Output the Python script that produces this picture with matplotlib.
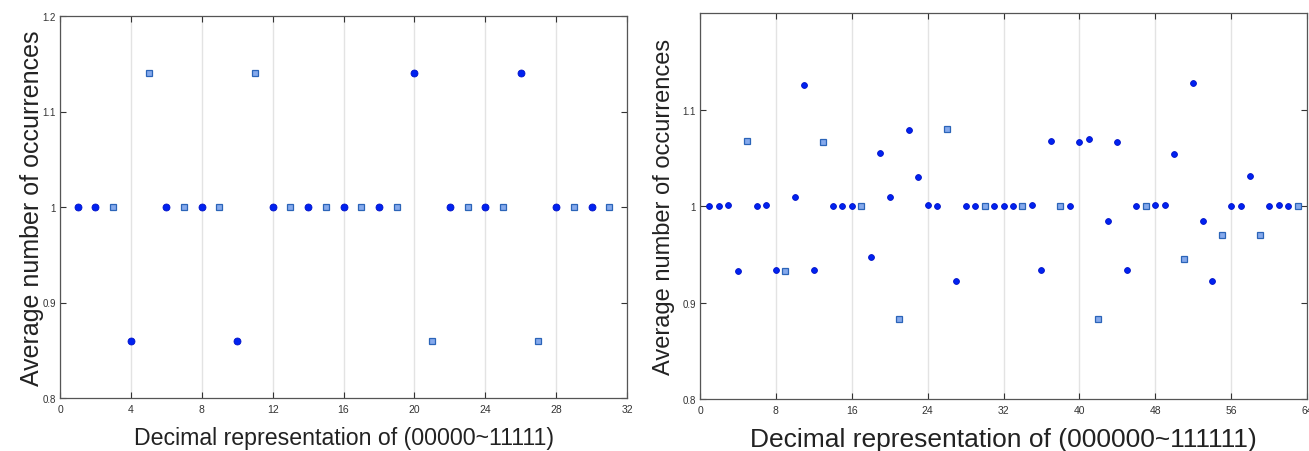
import matplotlib
matplotlib.use("Agg")
import matplotlib.pyplot as plt
import numpy as np

plt.rcParams['font.family'] = ['Liberation Sans', 'DejaVu Sans']

# ---- data: left panel (5-bit patterns) ----
left_x = list(range(1, 32))
left_y = [1.0, 1.0, 1.0, 0.86, 1.14, 1.0, 1.0, 1.0, 1.0, 0.86,
          1.14, 1.0, 1.0, 1.0, 1.0, 1.0, 1.0, 1.0, 1.0, 1.14,
          0.86, 1.0, 1.0, 1.0, 1.0, 1.14, 0.86, 1.0, 1.0, 1.0, 1.0]
left_sq = [3, 5, 7, 9, 11, 13, 15, 17, 19, 21, 23, 25, 27, 29, 31]

# ---- data: right panel (6-bit patterns) ----
right_x = list(range(1, 64))
right_y = [1.000, 1.000, 1.001, 0.933, 1.067, 1.000, 1.001, 0.934, 0.933, 1.009,
           1.125, 0.934, 1.066, 1.000, 1.000, 1.000, 1.000, 0.947, 1.055, 1.009,
           0.883, 1.079, 1.030, 1.001, 1.000, 1.080, 0.922, 1.000, 1.000, 1.000,
           1.000, 1.000, 1.000, 1.000, 1.001, 0.934, 1.067, 1.000, 1.000, 1.066,
           1.069, 0.883, 0.984, 1.066, 0.934, 1.000, 1.000, 1.001, 1.001, 1.054,
           0.945, 1.127, 0.984, 0.922, 0.970, 1.000, 1.000, 1.031, 0.970, 1.000,
           1.001, 1.000, 1.000]
right_sq = [5, 9, 13, 17, 21, 26, 30, 34, 38, 42, 47, 51, 55, 59, 63]

left_xticks = [0, 4, 8, 12, 16, 20, 24, 28, 32]
right_xticks = [0, 8, 16, 24, 32, 40, 48, 56, 64]
left_yticks = [0.8, 0.9, 1.0, 1.1, 1.2]
left_yticklabels = ['0.8', '0.9', '1', '1.1', '1.2']
right_yticks = [0.8, 0.9, 1.0, 1.1]
right_yticklabels = ['0.8', '0.9', '1', '1.1']

CIRC_FACE = '#0022F0'
CIRC_EDGE = '#0010C8'
SQ_FACE = '#85A9EC'
SQ_EDGE = '#2B64B8'

fig = plt.figure(figsize=(13.09, 4.52), dpi=100)

def style(ax, xlim, xticks, yticks, yticklabels, xlabel, xl_fs, yl_fs, ylpad):
    ax.set_xlim(*xlim)
    ax.set_ylim(0.8, 1.2)
    ax.set_xticks(xticks)
    ax.set_yticks(yticks)
    ax.set_yticklabels(yticklabels)
    ax.tick_params(direction='in', top=True, right=True, length=4, width=0.8,
                   colors='#333333', labelsize=7, pad=3)
    ax.tick_params(axis='x', labelsize=7.5, pad=4)
    ax.grid(axis='x', color='#E3E3E3', linewidth=1.0)
    ax.grid(axis='y', visible=False)
    ax.set_axisbelow(True)
    for s in ax.spines.values():
        s.set_color('#555555')
        s.set_linewidth(0.9)
    ax.set_xlabel(xlabel, fontsize=xl_fs, color='#222222', labelpad=9)
    ax.set_ylabel('Average number of occurrences', fontsize=yl_fs,
                  color='#222222', labelpad=ylpad)

def draw(ax, xs, ys, sq, ms):
    cx = [x for x, y in zip(xs, ys) if x not in sq]
    cy = [y for x, y in zip(xs, ys) if x not in sq]
    sx = [x for x, y in zip(xs, ys) if x in sq]
    sy = [y for x, y in zip(xs, ys) if x in sq]
    ax.plot(cx, cy, 'o', ms=ms, mfc=CIRC_FACE, mec=CIRC_EDGE, mew=0.6,
            linestyle='none', zorder=3)
    ax.plot(sx, sy, 's', ms=ms * 0.95, mfc=SQ_FACE, mec=SQ_EDGE, mew=0.9,
            linestyle='none', zorder=3)

ax1 = fig.add_axes([60 / 1309, 53 / 452, 567 / 1309, 382 / 452])
style(ax1, (0, 32), left_xticks, left_yticks, left_yticklabels,
      'Decimal representation of (00000~11111)', 16.7, 18, -1)
draw(ax1, left_x, left_y, left_sq, 5)

ax2 = fig.add_axes([700 / 1309, 52 / 452, 607 / 1309, 386 / 452])
style(ax2, (0, 64), right_xticks, right_yticks, right_yticklabels,
      'Decimal representation of (000000~111111)', 19, 17, 5)
draw(ax2, right_x, right_y, right_sq, 4.2)

fig.savefig('out.png', dpi=100)
